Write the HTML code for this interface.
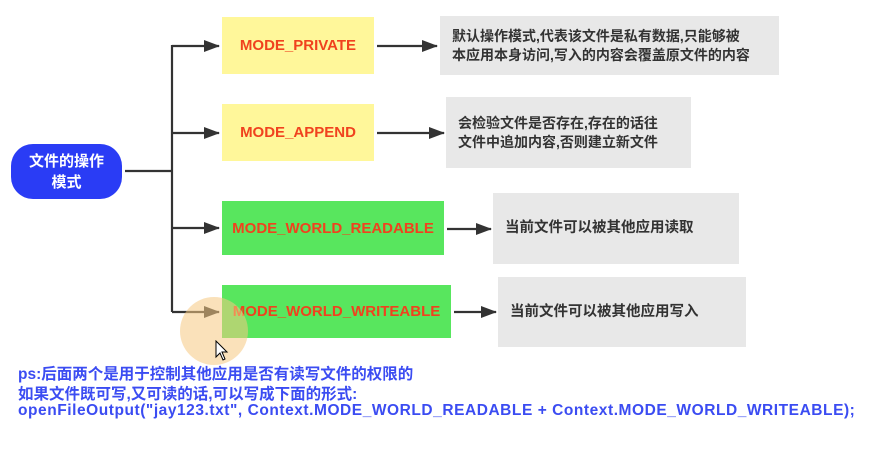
<!DOCTYPE html>
<html><head><meta charset="utf-8"><style>
body{margin:0;width:878px;height:452px;background:#fff;position:relative;overflow:hidden;font-family:"Liberation Sans","Noto Sans CJK SC",sans-serif;}
.b{position:absolute;box-sizing:border-box;display:flex;align-items:center;justify-content:center;}
.m{color:#f0421e;font-weight:bold;font-size:15px;}
.y{background:#fff79a;}
.g{background:#58e65e;}
.gr{background:#e8e8e8;color:#333;font-size:14px;font-weight:bold;justify-content:flex-start;padding-left:12px;line-height:19px;}
.t{position:absolute;left:18px;color:#3b4cf2;font-weight:bold;font-size:15.5px;white-space:nowrap;}
</style></head><body>
<div class="b" style="left:11px;top:144px;width:111px;height:55px;background:#2a3cf5;border-radius:22px;color:#fff;font-weight:bold;font-size:15px;text-align:center;line-height:21px;">文件的操作<br>模式</div>
<svg width="878" height="452" style="position:absolute;left:0;top:0">
<defs><marker id="a" markerWidth="16" markerHeight="14" refX="15" refY="7" orient="auto" markerUnits="userSpaceOnUse"><path d="M0,1 L16,7 L0,13z" fill="#333"/></marker></defs>
<g stroke="#333" stroke-width="2.2" fill="none">
<line x1="125" y1="171" x2="172" y2="171"/>
<line x1="172" y1="45" x2="172" y2="312"/>
<line x1="172" y1="46" x2="219" y2="46" marker-end="url(#a)"/>
<line x1="172" y1="133" x2="219" y2="133" marker-end="url(#a)"/>
<line x1="172" y1="228" x2="219" y2="228" marker-end="url(#a)"/>
<line x1="172" y1="312" x2="219" y2="312" marker-end="url(#a)"/>
<line x1="377" y1="46" x2="437" y2="46" marker-end="url(#a)"/>
<line x1="377" y1="133" x2="444" y2="133" marker-end="url(#a)"/>
<line x1="447" y1="229" x2="491" y2="229" marker-end="url(#a)"/>
<line x1="454" y1="312" x2="496" y2="312" marker-end="url(#a)"/>
</g></svg>
<div class="b y m" style="left:222px;top:17px;width:152px;height:57px;">MODE_PRIVATE</div>
<div class="b y m" style="left:222px;top:104px;width:152px;height:57px;">MODE_APPEND</div>
<div class="b g m" style="left:222px;top:201px;width:222px;height:54px;">MODE_WORLD_READABLE</div>
<div class="b g m" style="left:222px;top:285px;width:229px;height:53px;">MODE_WORLD_WRITEABLE</div>
<div style="position:absolute;left:180px;top:297px;width:68px;height:68px;border-radius:50%;background:rgba(246,200,130,0.55);"></div>
<div class="b gr" style="left:440px;top:16px;width:339px;height:59px;">默认操作模式,代表该文件是私有数据,只能够被<br>本应用本身访问,写入的内容会覆盖原文件的内容</div>
<div class="b gr" style="left:446px;top:97px;width:245px;height:71px;">会检验文件是否存在,存在的话往<br>文件中追加内容,否则建立新文件</div>
<div class="b gr" style="left:493px;top:193px;width:246px;height:71px;font-size:14.5px;">当前文件可以被其他应用读取</div>
<div class="b gr" style="left:498px;top:277px;width:248px;height:70px;font-size:14.5px;">当前文件可以被其他应用写入</div>
<div class="t" style="top:362px;">ps:后面两个是用于控制其他应用是否有读写文件的权限的</div>
<div class="t" style="top:382px;">如果文件既可写,又可读的话,可以写成下面的形式:</div>
<div class="t" style="top:402px;letter-spacing:0.55px;">openFileOutput("jay123.txt", Context.MODE_WORLD_READABLE + Context.MODE_WORLD_WRITEABLE);</div>
<svg width="14" height="22" style="position:absolute;left:215px;top:340px"><path d="M1,1 L1,17 L5,13 L8,20 L10,19 L7,12 L12,12z" fill="#fff" stroke="#000" stroke-width="1"/></svg>
</body></html>
